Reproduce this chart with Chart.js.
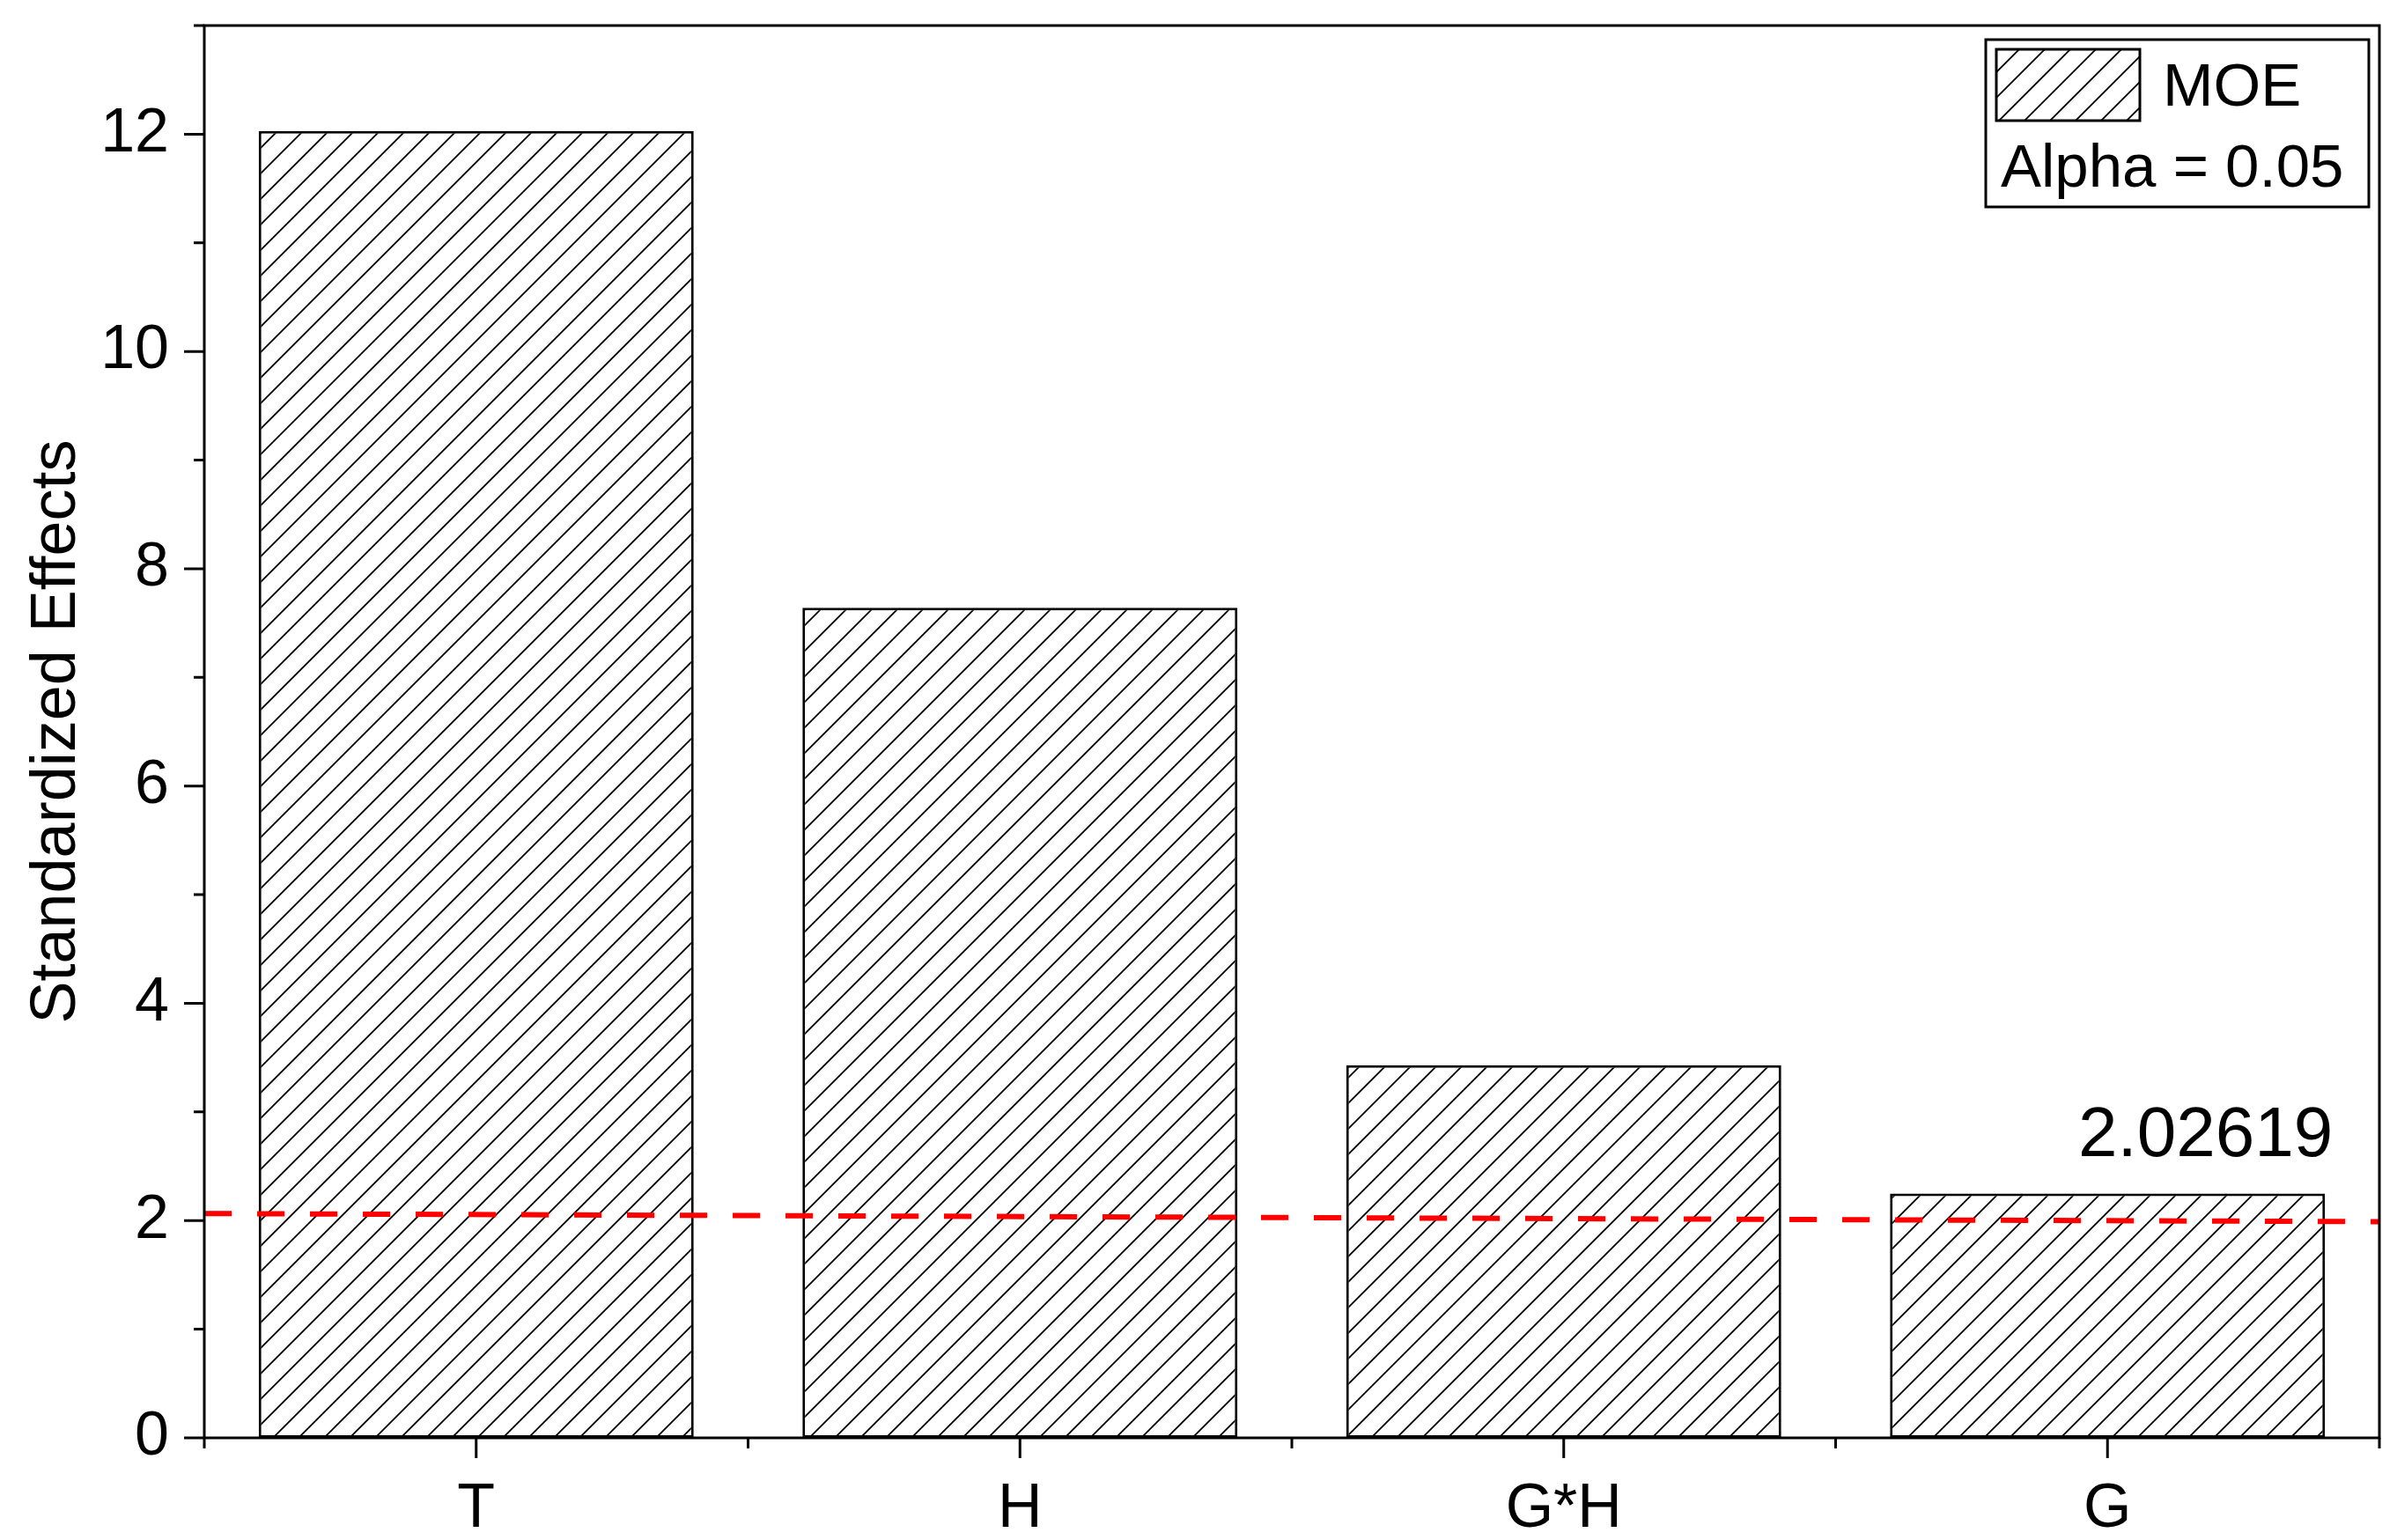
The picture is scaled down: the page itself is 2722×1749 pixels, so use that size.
<!DOCTYPE html>
<html>
<head>
<meta charset="utf-8">
<script src="https://cdn.jsdelivr.net/npm/chart.js@4.4.1/dist/chart.umd.min.js"></script>
<style>
  html, body { margin: 0; padding: 0; background: #fff; }
  #wrap { width: 2722px; height: 1749px; }
</style>
</head>
<body>
<div id="wrap"><canvas id="chart" width="2722" height="1749"></canvas></div>
<script>
// data
const categories = ['T', 'H', 'G*H', 'G'];
const effects = [12.03, 7.64, 3.43, 2.25];
const seriesLabel = 'MOE';
const alphaLabel = 'Alpha = 0.05';
const criticalValue = 2.02619;
// the red reference line is drawn slightly tilted in the original
const refLineX = [0, 1];
const refLineY = [2.065, 1.99];
const yMin = 0;
const yMax = 13;

const FONT = "'Liberation Sans', Arial, sans-serif";

function makeHatch() {
  const s = 29;
  const c = document.createElement('canvas');
  c.width = s; c.height = s;
  const g = c.getContext('2d');
  g.fillStyle = '#fff';
  g.fillRect(0, 0, s, s);
  g.strokeStyle = '#000';
  g.lineWidth = 1.8;
  g.beginPath();
  g.moveTo(0, s); g.lineTo(s, 0);
  g.moveTo(-2, 2); g.lineTo(2, -2);
  g.moveTo(s - 2, s + 2); g.lineTo(s + 2, s - 2);
  g.stroke();
  return g.createPattern(c, 'repeat');
}

const ctx = document.getElementById('chart').getContext('2d');
const hatch = makeHatch();

// frame, tick marks, critical value label and legend box
const decorations = {
  id: 'decorations',
  afterDraw(chart) {
    const { ctx, chartArea: a, scales } = chart;
    const x = scales.x, y = scales.y;
    ctx.save();
    ctx.strokeStyle = '#000';
    ctx.lineWidth = 3;
    ctx.strokeRect(a.left, a.top, a.right - a.left, a.bottom - a.top);

    ctx.beginPath();
    for (let v = yMin; v <= yMax; v++) {
      const py = y.getPixelForValue(v);
      const len = v % 2 === 0 ? 23 : 12;
      ctx.moveTo(a.left - len, py); ctx.lineTo(a.left, py);
    }
    const half = (x.getPixelForValue(1) - x.getPixelForValue(0)) / 2;
    categories.forEach((c, i) => {
      const px = x.getPixelForValue(i);
      ctx.moveTo(px, a.bottom); ctx.lineTo(px, a.bottom + 23);
      ctx.moveTo(px - half, a.bottom); ctx.lineTo(px - half, a.bottom + 12);
      if (i === categories.length - 1) {
        ctx.moveTo(px + half, a.bottom); ctx.lineTo(px + half, a.bottom + 12);
      }
    });
    ctx.stroke();

    // critical value text above the last bar
    const bars = chart.getDatasetMeta(1).data;
    const last = bars[bars.length - 1];
    ctx.fillStyle = '#000';
    ctx.font = '80px ' + FONT;
    ctx.textAlign = 'right';
    ctx.textBaseline = 'alphabetic';
    ctx.fillText(String(criticalValue), last.x + last.width / 2 + 9, y.getPixelForValue(criticalValue) - 70);

    // legend
    const bx = a.right - 447, by = a.top + 16, bw = 435, bh = 190;
    ctx.fillStyle = '#fff';
    ctx.fillRect(bx, by, bw, bh);
    ctx.strokeRect(bx, by, bw, bh);
    ctx.fillStyle = hatch;
    ctx.fillRect(bx + 12, by + 11, 163, 81);
    ctx.strokeRect(bx + 12, by + 11, 163, 81);
    ctx.fillStyle = '#000';
    ctx.font = '69px ' + FONT;
    ctx.textAlign = 'left';
    ctx.fillText(seriesLabel, bx + 201, by + 75);
    ctx.fillText(alphaLabel, bx + 17, by + 167);
    ctx.restore();
  }
};

function noPad(s) {
  s.paddingTop = 0; s.paddingBottom = 0; s.paddingLeft = 0; s.paddingRight = 0;
}

new Chart(ctx, {
  data: {
    labels: categories,
    datasets: [{
      type: 'line',
      label: 'critical',
      xAxisID: 'x2',
      data: refLineX.map((v, i) => ({ x: v, y: refLineY[i] })),
      borderColor: '#ff0000',
      borderWidth: 6,
      borderDash: [31, 29],
      pointRadius: 0,
      fill: false,
      order: 0,
    }, {
      type: 'bar',
      label: seriesLabel,
      data: effects,
      backgroundColor: hatch,
      borderColor: '#000',
      borderWidth: 3,
      borderSkipped: false,
      grouped: false,
      categoryPercentage: 0.8,
      barPercentage: 1.0,
      order: 1,
    }],
  },
  plugins: [decorations],
  options: {
    responsive: false,
    animation: false,
    devicePixelRatio: 1,
    layout: { padding: { left: 0, top: 29, right: 20, bottom: 0 } },
    plugins: {
      legend: { display: false },
      tooltip: { enabled: false },
    },
    scales: {
      x: {
        type: 'category',
        offset: true,
        grid: { display: false, drawTicks: false },
        border: { display: false },
        ticks: { color: '#000', padding: 40, font: { family: FONT, size: 70 } },
        afterFit: (s) => { s.height = 116; noPad(s); },
      },
      x2: {
        type: 'linear',
        display: false,
        min: 0,
        max: 1,
      },
      y: {
        min: yMin,
        max: yMax,
        grid: { display: false, drawTicks: false },
        border: { display: false },
        ticks: {
          stepSize: 1,
          color: '#000',
          padding: 40,
          font: { family: FONT, size: 70 },
          callback: (v) => (v % 2 === 0 ? v : ''),
        },
        title: {
          display: true,
          text: 'Standardized Effects',
          color: '#000',
          font: { family: FONT, size: 72 },
          padding: { top: 22, bottom: 0 },
        },
        afterFit: (s) => { s.width = 232; noPad(s); },
      },
    },
  },
});
</script>
</body>
</html>
